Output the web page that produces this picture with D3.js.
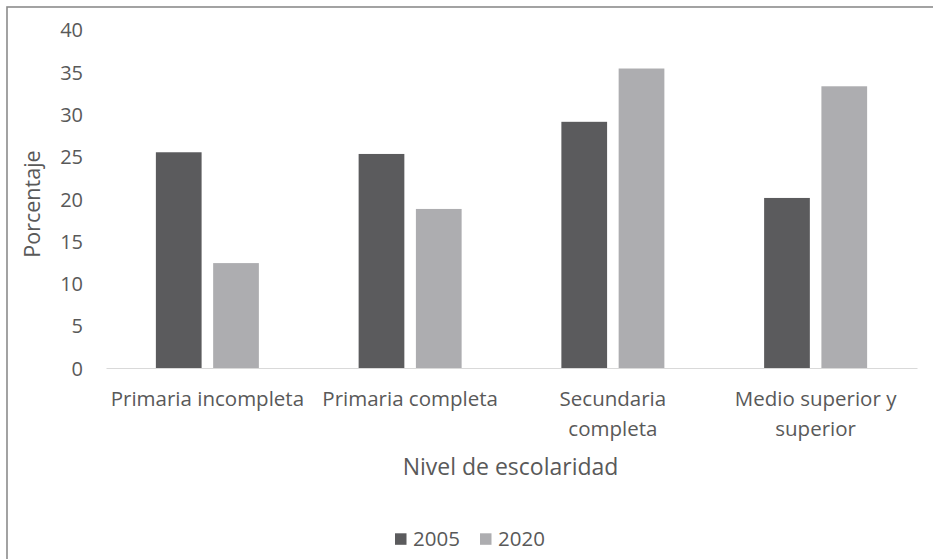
<!DOCTYPE html>
<html>
<head>
<meta charset="utf-8">
<script src="https://cdn.jsdelivr.net/npm/d3@7"></script>
<style>
  html, body { margin: 0; padding: 0; background: #fff; }
  svg { display: block; font-family: "Open Sans", sans-serif; }
</style>
</head>
<body>
<svg id="chart" width="933" height="559"></svg>
<script>
// ---- data ----
const categories = ["Primaria incompleta", "Primaria completa", "Secundaria completa", "Medio superior y superior"];
const categoryLines = [["Primaria incompleta"], ["Primaria completa"], ["Secundaria", "completa"], ["Medio superior y", "superior"]];
const seriesNames = ["2005", "2020"];
const values2005 = [25.5, 25.3, 29.1, 20.1];
const values2020 = [12.4, 18.8, 35.4, 33.3];
const yTicks = [0, 5, 10, 15, 20, 25, 30, 35, 40];
const yTitle = "Porcentaje";
const xTitle = "Nivel de escolaridad";

// ---- layout ----
const W = 933, H = 559;
const plot = { left: 106, right: 917, top: 29.6, bottom: 368 };
const colors = ["#5b5b5d", "#adadb0"];
const textColor = "#595959";

const svg = d3.select("#chart");

// chart border (cropped on right/bottom)
svg.append("rect")
  .attr("x", 7).attr("y", 7)
  .attr("width", W + 10).attr("height", H + 10)
  .attr("fill", "#fff")
  .attr("stroke", "#8c8c8c")
  .attr("stroke-width", 1.6);

const x0 = d3.scaleBand().domain(categories).range([plot.left, plot.right]).paddingInner(0).paddingOuter(0);
const bw = x0.bandwidth();
const barW = bw * 0.2255;
const gap = bw * 0.057;
const y = d3.scaleLinear().domain([0, 40]).range([plot.bottom, plot.top]);

const rows = categories.map((c, i) => ({ cat: c, vals: [values2005[i], values2020[i]] }));

// bars
const g = svg.append("g");
rows.forEach(r => {
  const cx = x0(r.cat) + bw / 2;
  r.vals.forEach((v, k) => {
    const bx = k === 0 ? cx - gap / 2 - barW : cx + gap / 2;
    g.append("rect")
      .attr("x", bx)
      .attr("y", y(v))
      .attr("width", barW)
      .attr("height", y(0) - y(v))
      .attr("fill", colors[k]);
  });
});

// x axis line
const xAxis = d3.axisBottom(x0).tickSize(0).tickFormat("");
const xg = svg.append("g").attr("transform", `translate(0,${y(0)})`).call(xAxis);
xg.select(".domain").attr("stroke", "#d9d9d9").attr("stroke-width", 1.2);

// y axis labels
const yAxis = d3.axisLeft(y).tickValues(yTicks).tickSize(0).tickPadding(0);
const yg = svg.append("g").attr("transform", `translate(83,0)`).call(yAxis);
yg.select(".domain").remove();
yg.selectAll("text")
  .attr("fill", textColor)
  .attr("font-size", 20)
  .attr("font-family", "'Open Sans', sans-serif")
  .attr("dy", "0.36em");

// category labels
categories.forEach((c, i) => {
  const t = svg.append("text")
    .attr("x", x0(c) + bw / 2)
    .attr("y", 406)
    .attr("text-anchor", "middle")
    .attr("fill", textColor)
    .attr("font-size", 20.5);
  categoryLines[i].forEach((line, j) => {
    t.append("tspan").attr("x", x0(c) + bw / 2).attr("y", 406 + j * 29.5).text(line);
  });
});

// axis titles
svg.append("text")
  .attr("x", (plot.left + plot.right) / 2 - 1)
  .attr("y", 475)
  .attr("text-anchor", "middle")
  .attr("fill", textColor)
  .attr("font-size", 23)
  .text(xTitle);

svg.append("text")
  .attr("transform", `translate(40,204) rotate(-90)`)
  .attr("text-anchor", "middle")
  .attr("fill", textColor)
  .attr("font-size", 21.5)
  .text(yTitle);

// legend
const legendX = [395, 480];
seriesNames.forEach((s, k) => {
  svg.append("rect")
    .attr("x", legendX[k]).attr("y", 533.3)
    .attr("width", 11.5).attr("height", 11.5)
    .attr("fill", colors[k]);
  svg.append("text")
    .attr("x", legendX[k] + 18)
    .attr("y", 546)
    .attr("fill", textColor)
    .attr("font-size", 20.5)
    .text(s);
});
</script>
</body>
</html>
